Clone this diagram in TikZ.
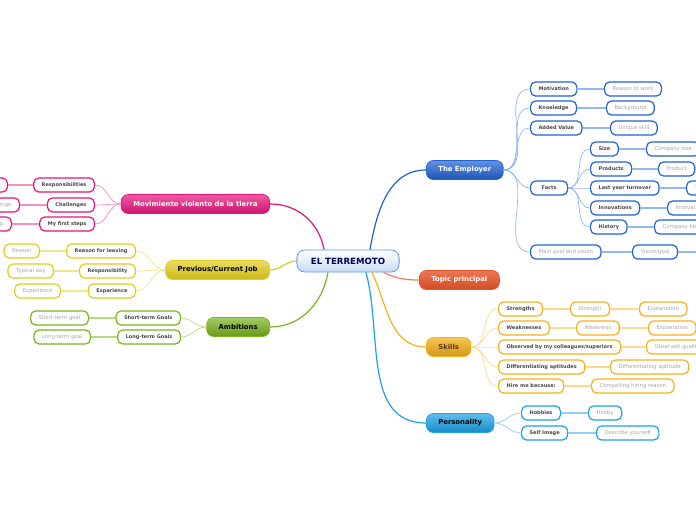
\documentclass[tikz,border=0pt]{standalone}
\usepackage{fontspec}
\setmainfont{DejaVu Sans}
\usetikzlibrary{calc}

\definecolor{empblue}{HTML}{1F63D5}
\definecolor{emplight}{HTML}{93B8EE}
\definecolor{pinkc}{HTML}{E5147A}
\definecolor{pinklight}{HTML}{F590C2}
\definecolor{jobyellow}{HTML}{E2CD1C}
\definecolor{joblight}{HTML}{F0E48E}
\definecolor{ambgreen}{HTML}{7AB51D}
\definecolor{amblight}{HTML}{B8DA7E}
\definecolor{skillgold}{HTML}{F5B21A}
\definecolor{skilllight}{HTML}{FBDA8C}
\definecolor{perblue}{HTML}{1AA3E8}
\definecolor{perlight}{HTML}{90D0F4}
\definecolor{topicred}{HTML}{E8552A}
\definecolor{rootblue}{HTML}{5A9AD6}

\begin{document}
\begin{tikzpicture}[x=1pt, y=1pt,
    % Define styles for reusable components
    topic/.style={draw, rounded corners=7pt, line width=0.7pt, minimum height=19pt,
        inner xsep=12pt, inner ysep=0pt, font=\bfseries\fontsize{6.85}{7}\selectfont},
    sub/.style={draw, fill=white, rounded corners=5pt, line width=1.2pt, minimum height=14pt,
        inner xsep=8pt, inner ysep=0pt, text=black!72, font=\bfseries\fontsize{5}{6}\selectfont},
    detail/.style={sub, text=black!35, font=\fontsize{5.3}{6}\selectfont},
    root link/.style={line width=1.2pt},
    branch/.style={line width=0.7pt},
    leaf link/.style={line width=1.5pt}
]

    % --- CANVAS ---
    \useasboundingbox (0,0) rectangle (696,-520);
    \clip (0,0) rectangle (696,-520);
    \fill[white] (0,0) rectangle (696,-520);

    % --- CENTRAL TOPIC ---
    \node[draw=rootblue, line width=0.8pt, rounded corners=8pt, top color=white, bottom color=rootblue!35,
        minimum height=22pt, inner xsep=14pt, text=blue!30!black, font=\bfseries\fontsize{8.6}{9}\selectfont]
        (root) at (348,-261) {EL TERREMOTO};

    % --- MAIN TOPICS ---
    \node[topic, draw=empblue, top color=empblue!70!white, bottom color=empblue!85!black, text=white,
        anchor=west] (employer) at (426,-170) {The Employer};
    \node[topic, draw=topicred, top color=topicred!80!white, bottom color=topicred!90!black, text=white,
        anchor=west] (principal) at (419,-280) {Topic principal};
    \node[topic, draw=skillgold, top color=skillgold!75!white, bottom color=skillgold!85!black, text=black!55!brown,
        anchor=west] (skills) at (426,-347) {Skills};
    \node[topic, draw=perblue, top color=perblue!70!white, bottom color=perblue!85!black, text=black,
        anchor=west] (personality) at (426,-423) {Personality};
    \node[topic, draw=pinkc, top color=pinkc!70!white, bottom color=pinkc!90!black, text=white,
        anchor=east] (movimiento) at (270,-204) {Movimiento violento de la tierra};
    \node[topic, draw=jobyellow, top color=jobyellow!70!white, bottom color=jobyellow!90!black, text=black,
        anchor=east] (prevjob) at (270,-270) {Previous/Current Job};
    \node[topic, draw=ambgreen, top color=ambgreen!70!white, bottom color=ambgreen!85!black, text=black,
        anchor=east] (ambitions) at (270,-327) {Ambitions};

    % Links from the central topic
    \draw[root link, empblue] ($(root.north)+(22,0)$) to[out=80, in=180] (employer.west);
    \draw[root link, topicred!75!white] ($(root.south east)+(-16,0)$) to[out=-25, in=180] (principal.west);
    \draw[root link, skillgold] ($(root.south)+(24,0)$) to[out=-65, in=180] (skills.west);
    \draw[root link, perblue] ($(root.south)+(18,0)$) to[out=-75, in=180] (personality.west);
    \draw[root link, pinkc] ($(root.north)+(-24,0)$) to[out=100, in=0] (movimiento.east);
    \draw[root link, jobyellow] (root.west) to[out=180, in=0] (prevjob.east);
    \draw[root link, ambgreen] ($(root.south)+(-20,0)$) to[out=-100, in=0] (ambitions.east);

    % --- THE EMPLOYER ---
    \node[sub, draw=empblue, anchor=west] (motivation) at (530,-89) {Motivation};
    \node[sub, draw=empblue, anchor=west] (knowledge) at (530,-108) {Knoeledge};
    \node[sub, draw=empblue, anchor=west] (addedvalue) at (530,-128) {Added Value};
    \node[sub, draw=empblue, anchor=west, minimum width=37pt] (facts) at (530,-188) {Facts};
    \node[detail, draw=empblue, anchor=west] (goalvision) at (530,-252) {Main goal and vision};
    \node[detail, draw=empblue, anchor=west] (worktext) at (604,-89) {Reason to work};
    \node[detail, draw=empblue, anchor=west] (background) at (606,-108) {Background};
    \node[detail, draw=empblue, anchor=west] (uniqueskill) at (610,-128) {Unique skill};
    \node[detail, draw=empblue, anchor=west] (visiongoal) at (632,-252) {Vision/goal};
    \coordinate (visionend) at (720,-252);

    % Facts
    \node[sub, draw=empblue, anchor=west] (size) at (590,-149) {Size};
    \node[sub, draw=empblue, anchor=west] (products) at (590,-169) {Products};
    \node[sub, draw=empblue, anchor=west] (turnover) at (590,-188) {Last year turnover};
    \node[sub, draw=empblue, anchor=west] (innovations) at (590,-208) {Innovations};
    \node[sub, draw=empblue, anchor=west] (history) at (590,-227) {History};
    \node[detail, draw=empblue, anchor=west] (companysize) at (646,-149) {Company size};
    \node[detail, draw=empblue, anchor=west] (product) at (658,-169) {Product};
    \node[detail, draw=empblue, anchor=west] (turnoverleaf) at (686,-188) {Turnover};
    \node[detail, draw=empblue, anchor=west] (innovation) at (667,-208) {Innovation};
    \node[detail, draw=empblue, anchor=west] (companyhistory) at (654,-227) {Company history};

    \draw[branch, emplight] (employer.east) to[out=0, in=180] (motivation.west);
    \draw[branch, emplight] (employer.east) to[out=0, in=180] (knowledge.west);
    \draw[branch, emplight] (employer.east) to[out=0, in=180] (addedvalue.west);
    \draw[branch, emplight] (employer.east) to[out=0, in=180] (facts.west);
    \draw[branch, emplight] (employer.east) to[out=0, in=180] (goalvision.west);
    \draw[branch, emplight] (facts.east) to[out=0, in=180] (size.west);
    \draw[branch, emplight] (facts.east) to[out=0, in=180] (products.west);
    \draw[branch, emplight] (facts.east) to[out=0, in=180] (turnover.west);
    \draw[branch, emplight] (facts.east) to[out=0, in=180] (innovations.west);
    \draw[branch, emplight] (facts.east) to[out=0, in=180] (history.west);
    \draw[leaf link, emplight] (motivation) -- (worktext);
    \draw[leaf link, emplight] (knowledge) -- (background);
    \draw[leaf link, emplight] (addedvalue) -- (uniqueskill);
    \draw[leaf link, emplight] (goalvision) -- (visiongoal);
    \draw[leaf link, emplight] (visiongoal) -- (visionend);
    \draw[leaf link, emplight] (size) -- (companysize);
    \draw[leaf link, emplight] (products) -- (product);
    \draw[leaf link, emplight] (turnover) -- (turnoverleaf);
    \draw[leaf link, emplight] (innovations) -- (innovation);
    \draw[leaf link, emplight] (history) -- (companyhistory);

    % --- SKILLS ---
    \node[sub, draw=skillgold, anchor=west] (strengths) at (498,-309) {Strengths};
    \node[sub, draw=skillgold, anchor=west] (weaknesses) at (498,-328) {Weaknesses};
    \node[sub, draw=skillgold, anchor=west] (observed) at (498,-347) {Observed by my colleagues/superiors};
    \node[sub, draw=skillgold, anchor=west] (aptitudes) at (498,-367) {Differentiating aptitudes};
    \node[sub, draw=skillgold, anchor=west] (hireme) at (498,-386) {Hire me because:};
    \node[detail, draw=skillgold, anchor=west] (strength) at (570,-309) {Strength};
    \node[detail, draw=skillgold, anchor=west] (explainA) at (639,-309) {Explanation};
    \node[detail, draw=skillgold, anchor=west] (weakness) at (576,-328) {Weakness};
    \node[detail, draw=skillgold, anchor=west] (explainB) at (648,-328) {Explanation};
    \node[detail, draw=skillgold, anchor=west] (quality) at (646,-347) {Observed quality};
    \node[detail, draw=skillgold, anchor=west] (aptitude) at (610,-367) {Differentiating aptitude};
    \node[detail, draw=skillgold, anchor=west] (hirereason) at (591,-386) {Compelling hiring reason};

    \draw[branch, skilllight] (skills.east) to[out=0, in=180] (strengths.west);
    \draw[branch, skilllight] (skills.east) to[out=0, in=180] (weaknesses.west);
    \draw[branch, skilllight] (skills.east) to[out=0, in=180] (observed.west);
    \draw[branch, skilllight] (skills.east) to[out=0, in=180] (aptitudes.west);
    \draw[branch, skilllight] (skills.east) to[out=0, in=180] (hireme.west);
    \draw[leaf link, skilllight] (strengths) -- (strength);
    \draw[leaf link, skilllight] (strength) -- (explainA);
    \draw[leaf link, skilllight] (weaknesses) -- (weakness);
    \draw[leaf link, skilllight] (weakness) -- (explainB);
    \draw[leaf link, skilllight] (observed) -- (quality);
    \draw[leaf link, skilllight] (aptitudes) -- (aptitude);
    \draw[leaf link, skilllight] (hireme) -- (hirereason);

    % --- PERSONALITY ---
    \node[sub, draw=perblue, anchor=west] (hobbies) at (521,-413) {Hobbies};
    \node[sub, draw=perblue, anchor=west] (selfimage) at (521,-433) {Self Image};
    \node[detail, draw=perblue, anchor=west] (hobby) at (588,-413) {Hobby};
    \node[detail, draw=perblue, anchor=west] (describe) at (596,-433) {Describe yourself};

    \draw[branch, perlight] (personality.east) to[out=0, in=180] (hobbies.west);
    \draw[branch, perlight] (personality.east) to[out=0, in=180] (selfimage.west);
    \draw[leaf link, perlight] (hobbies) -- (hobby);
    \draw[leaf link, perlight] (selfimage) -- (describe);

    % --- MOVIMIENTO VIOLENTO ---
    \node[sub, draw=pinkc, anchor=east] (responsibilities) at (95,-185) {Responsibilities};
    \node[sub, draw=pinkc, anchor=east] (challenges) at (95,-205) {Challenges};
    \node[sub, draw=pinkc, anchor=east] (firststeps) at (95,-224) {My first steps};
    \node[detail, draw=pinkc, anchor=east] (responsibilityleaf) at (8,-185) {Responsibility};
    \node[detail, draw=pinkc, anchor=east] (challenge) at (20,-205) {Challenge};
    \node[detail, draw=pinkc, anchor=east] (firststep) at (12,-224) {First step};

    \draw[branch, pinklight] (movimiento.west) to[out=180, in=0] (responsibilities.east);
    \draw[branch, pinklight] (movimiento.west) to[out=180, in=0] (challenges.east);
    \draw[branch, pinklight] (movimiento.west) to[out=180, in=0] (firststeps.east);
    \draw[leaf link, pinklight] (responsibilities) -- (responsibilityleaf);
    \draw[leaf link, pinklight] (challenges) -- (challenge);
    \draw[leaf link, pinklight] (firststeps) -- (firststep);

    % --- PREVIOUS/CURRENT JOB ---
    \node[sub, draw=jobyellow, anchor=east] (leaving) at (136,-251) {Reason for leaving};
    \node[sub, draw=jobyellow, anchor=east] (responsibility) at (136,-271) {Responsibility};
    \node[sub, draw=jobyellow, anchor=east] (experience) at (136,-291) {Experience};
    \node[detail, draw=jobyellow, anchor=east] (reason) at (40,-251) {Reason};
    \node[detail, draw=jobyellow, anchor=east] (typicalday) at (54,-271) {Typical day};
    \node[detail, draw=jobyellow, anchor=east] (experienceleaf) at (61,-291) {Experience};

    \draw[branch, joblight] (prevjob.west) to[out=180, in=0] (leaving.east);
    \draw[branch, joblight] (prevjob.west) to[out=180, in=0] (responsibility.east);
    \draw[branch, joblight] (prevjob.west) to[out=180, in=0] (experience.east);
    \draw[leaf link, joblight] (leaving) -- (reason);
    \draw[leaf link, joblight] (responsibility) -- (typicalday);
    \draw[leaf link, joblight] (experience) -- (experienceleaf);

    % --- AMBITIONS ---
    \node[sub, draw=ambgreen, anchor=east] (shortgoals) at (181,-318) {Short-term Goals};
    \node[sub, draw=ambgreen, anchor=east] (longgoals) at (181,-337) {Long-term Goals};
    \node[detail, draw=ambgreen, anchor=east] (shortgoal) at (89,-318) {Short-term goal};
    \node[detail, draw=ambgreen, anchor=east] (longgoal) at (91,-337) {Long-term goal};

    \draw[branch, amblight] (ambitions.west) to[out=180, in=0] (shortgoals.east);
    \draw[branch, amblight] (ambitions.west) to[out=180, in=0] (longgoals.east);
    \draw[leaf link, amblight] (shortgoals) -- (shortgoal);
    \draw[leaf link, amblight] (longgoals) -- (longgoal);

\end{tikzpicture}
\end{document}
